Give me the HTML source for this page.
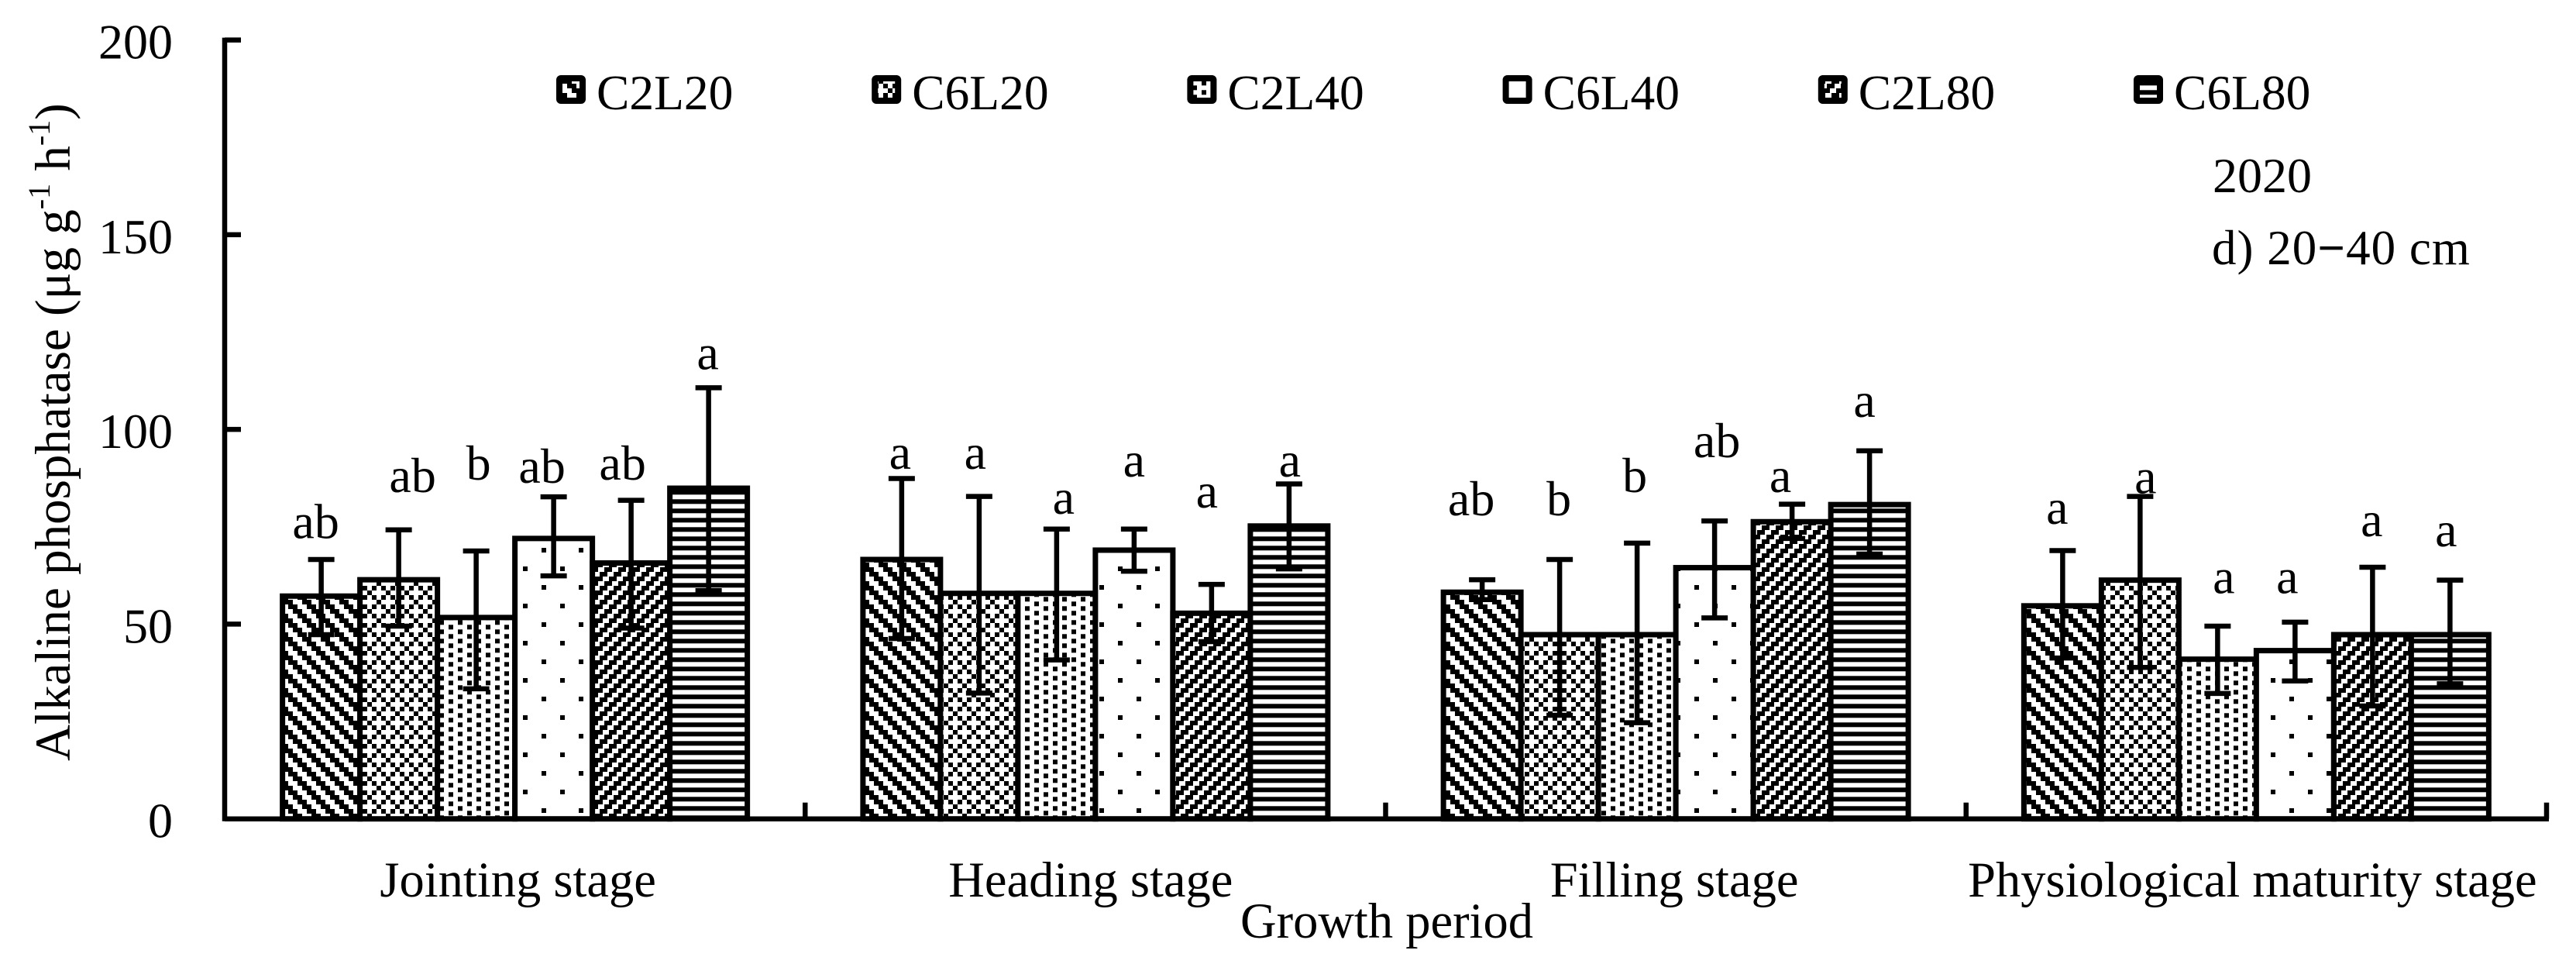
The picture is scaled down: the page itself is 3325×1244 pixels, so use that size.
<!DOCTYPE html>
<html lang="en">
<head>
<meta charset="utf-8">
<title>Alkaline phosphatase by growth period</title>
<style>
html,body{margin:0;padding:0;background:#fff;}
svg{display:block;font-family:"Liberation Serif",serif;fill:#000;}
</style>
</head>
<body>
<svg id="chart" xmlns="http://www.w3.org/2000/svg" width="3325" height="1244" viewBox="0 0 3325 1244">
<rect x="0" y="0" width="3325" height="1244" fill="#fff"/>
<defs>
<pattern id="p0" patternUnits="userSpaceOnUse" width="24" height="24" shape-rendering="crispEdges">
<rect width="24" height="24" fill="#fff"/>
<path d="M0 0h12v6H0zM6 6h12v6H6zM12 12h12v6H12zM18 18h6v6h-6zM0 18h6v6H0z" fill="#000"/>
</pattern>
<pattern id="p1" patternUnits="userSpaceOnUse" width="24" height="24" shape-rendering="crispEdges">
<rect width="24" height="24" fill="#fff"/>
<path d="M0 0h6v6H0zM12 0h6v6h-6zM6 6h6v6H6zM0 12h6v6H0zM12 12h6v6h-6zM18 18h6v6h-6z" fill="#000"/>
</pattern>
<pattern id="p2" patternUnits="userSpaceOnUse" width="24" height="12" x="3" y="2.3" shape-rendering="crispEdges">
<rect width="24" height="12" fill="#fff"/>
<path d="M0 0h6v6H0zM12 6h6v6h-6z" fill="#000"/>
</pattern>
<pattern id="p3" patternUnits="userSpaceOnUse" width="48" height="48" x="3" y="11" shape-rendering="crispEdges">
<rect width="48" height="48" fill="#fff"/>
<path d="M0 0h6v6H0zM24 24h6v6h-6z" fill="#000"/>
</pattern>
<pattern id="p4" patternUnits="userSpaceOnUse" width="18" height="18" shape-rendering="crispEdges">
<rect width="18" height="18" fill="#fff"/>
<path d="M0 0h10v6H0zM12 6h6v6h-6zM0 6h4v6H0zM6 12h10v6H6z" fill="#000"/>
</pattern>
<pattern id="p5" patternUnits="userSpaceOnUse" width="12" height="12" x="0" y="2.3" shape-rendering="crispEdges">
<rect width="12" height="12" fill="#000"/>
<rect y="0" width="12" height="6" fill="#fff"/>
</pattern>
</defs>
<g id="bars"></g>
<g id="errors"></g>
<g id="axes"></g>
<g id="sig" font-size="64"></g>
<g id="legend" font-size="63.5"></g>
<text transform="translate(90,982) rotate(-90)" font-size="65">Alkaline phosphatase (μg g<tspan font-size="40" dy="-26">-1</tspan><tspan dy="26"> h</tspan><tspan font-size="40" dy="-26">-1</tspan><tspan dy="26">)</tspan></text>
<text x="1790" y="1210" font-size="64.5" text-anchor="middle">Growth period</text>
<text x="2856" y="248" font-size="64">2020</text>
<text x="2855" y="341" font-size="63" letter-spacing="1">d) 20<tspan font-weight="bold">−</tspan>40 cm</text>
</svg>
<script>
const stages = ['Jointing stage', 'Heading stage', 'Filling stage', 'Physiological maturity stage'];
const seriesNames = ['C2L20', 'C6L20', 'C2L40', 'C6L40', 'C2L80', 'C6L80'];
const yTickValues = [0, 50, 100, 150, 200];

const meansJointing = [57.2, 61.4, 51.7, 72, 65.7, 84.9];
const meansHeading = [66.6, 57.9, 57.9, 69, 52.8, 75.2];
const meansFilling = [58.2, 47.3, 47.3, 64.5, 76.3, 80.7];
const meansMaturity = [54.7, 61.3, 41, 43.2, 47.3, 47.3];

const upperJointing = [66.6, 74.2, 68.8, 82.7, 81.8, 110.7];
const upperHeading = [87.4, 82.8, 74.4, 74.4, 60.2, 86];
const upperFilling = [61.4, 66.6, 70.8, 76.5, 80.8, 94.5];
const upperMaturity = [68.9, 82.8, 49.5, 50.5, 64.6, 61.3];

const lowerJointing = [47.3, 49.5, 33.4, 62.4, 49, 58.6];
const lowerHeading = [46.3, 32.3, 40.8, 63.6, 45.5, 64.2];
const lowerFilling = [56.3, 26.6, 24.7, 51.6, 72, 68];
const lowerMaturity = [41.3, 38.9, 32.2, 35.4, 29, 34.7];

const lettersJointing = ['ab', 'ab', 'b', 'ab', 'ab', 'a'];
const lettersHeading = ['a', 'a', 'a', 'a', 'a', 'a'];
const lettersFilling = ['ab', 'b', 'b', 'ab', 'a', 'a'];
const lettersMaturity = ['a', 'a', 'a', 'a', 'a', 'a'];

const letterLevelJointing = [72.1, 83.9, 87.1, 86.3, 87.1, 115.5];
const letterLevelHeading = [89.9, 89.9, 78.3, 87.9, 79.9, 87.9];
const letterLevelFilling = [77.9, 77.9, 83.9, 92.9, 83.9, 103.2];
const letterLevelMaturity = [75.8, 83.6, 57.9, 57.9, 72.6, 70];

const means = [meansJointing, meansHeading, meansFilling, meansMaturity];
const uppers = [upperJointing, upperHeading, upperFilling, upperMaturity];
const lowers = [lowerJointing, lowerHeading, lowerFilling, lowerMaturity];
const letters = [lettersJointing, lettersHeading, lettersFilling, lettersMaturity];
const letterLevels = [letterLevelJointing, letterLevelHeading, letterLevelFilling, letterLevelMaturity];

const letterNudge = [
  [-7, 18, 3, -15, -11, -1],
  [-2, -5, 9, 0, -6, 1],
  [-14, -1, -3, 3, -15, -6.5],
  [-7, 7, 8, -10, -1, -5]
];
const tickLabelNudge = [6, -4, 0, -3];

const NS = 'http://www.w3.org/2000/svg';
const AXIS_LEFT = 290, AXIS_RIGHT = 3287, Y_ZERO = 1056.7, PX_PER_UNIT = 5.0255, BAR_W = 100, LINE = 6.5;

function xBand(g) { return AXIS_LEFT + g * (AXIS_RIGHT - AXIS_LEFT) / stages.length; }
function xBar(g, s) { return xBand(g) + ((AXIS_RIGHT - AXIS_LEFT) / stages.length - BAR_W * seriesNames.length) / 2 + s * BAR_W; }
function yVal(v) { return Y_ZERO - v * PX_PER_UNIT; }

function mk(tag, attrs, parent, text) {
  const el = document.createElementNS(NS, tag);
  for (const k in attrs) el.setAttribute(k, attrs[k]);
  if (text !== undefined) el.textContent = text;
  parent.appendChild(el);
  return el;
}

const barLayer = document.getElementById('bars');
const errLayer = document.getElementById('errors');
const sigLayer = document.getElementById('sig');
const axisLayer = document.getElementById('axes');
const legendLayer = document.getElementById('legend');

stages.forEach(function (stage, g) {
  seriesNames.forEach(function (name, s) {
    const x = xBar(g, s), top = yVal(means[g][s]);
    const bar = mk('rect', { x: x, y: top, width: BAR_W, height: Y_ZERO - top, fill: 'url(#p' + s + ')', stroke: '#000', 'stroke-width': 7 }, barLayer);
    
    
  });
});

stages.forEach(function (stage, g) {
  seriesNames.forEach(function (name, s) {
    const cx = xBar(g, s) + BAR_W / 2, yu = yVal(uppers[g][s]), yl = yVal(lowers[g][s]);
    const eg = mk('path', { d: 'M' + cx + ' ' + yu + 'V' + yl + 'M' + (cx - 17) + ' ' + yu + 'H' + (cx + 17) + 'M' + (cx - 17) + ' ' + yl + 'H' + (cx + 17), fill: 'none', stroke: '#000', 'stroke-width': LINE }, errLayer);
    
    
    const t = mk('text', { x: cx + letterNudge[g][s], y: yVal(letterLevels[g][s]), 'text-anchor': 'middle' }, sigLayer, letters[g][s]);
    
    
  });
});

const yAxisLine = mk('path', { d: 'M' + AXIS_LEFT + ' ' + (yVal(200) - 3) + 'V' + (Y_ZERO + 3), stroke: '#000', 'stroke-width': LINE, fill: 'none' }, axisLayer);


const xAxisLine = mk('path', { d: 'M' + AXIS_LEFT + ' ' + Y_ZERO + 'H' + (AXIS_RIGHT + 3), stroke: '#000', 'stroke-width': LINE, fill: 'none' }, axisLayer);



yTickValues.forEach(function (v) {
  const y = yVal(v);
  const tick = mk('path', { d: 'M' + AXIS_LEFT + ' ' + y + 'H' + (AXIS_LEFT + 21), stroke: '#000', 'stroke-width': LINE, fill: 'none' }, axisLayer);
  
  
  const lab = mk('text', { x: 223, y: y + 24, 'font-size': 64, 'text-anchor': 'end' }, axisLayer, String(v));
  
  
});

stages.forEach(function (stage, g) {
  const edge = mk('path', { d: 'M' + xBand(g + 1) + ' ' + Y_ZERO + 'V' + (Y_ZERO - 21), stroke: '#000', 'stroke-width': LINE, fill: 'none' }, axisLayer);
  
  
  const lab = mk('text', { x: (xBand(g) + xBand(g + 1)) / 2 - 2 + tickLabelNudge[g], y: 1157, 'font-size': 64.5, 'text-anchor': 'middle' }, axisLayer, stage);
  
  
});

seriesNames.forEach(function (name, s) {
  const x = 718 + s * 407.2;
  const swatch = mk('rect', { x: x + 4, y: 101, width: 30, height: 29, rx: 2, fill: 'url(#p' + s + ')', stroke: '#000', 'stroke-width': 8 }, legendLayer);
  
  
  const lab = mk('text', { x: x + 52, y: 141 }, legendLayer, name);
  
  
});
</script>
</body>
</html>
